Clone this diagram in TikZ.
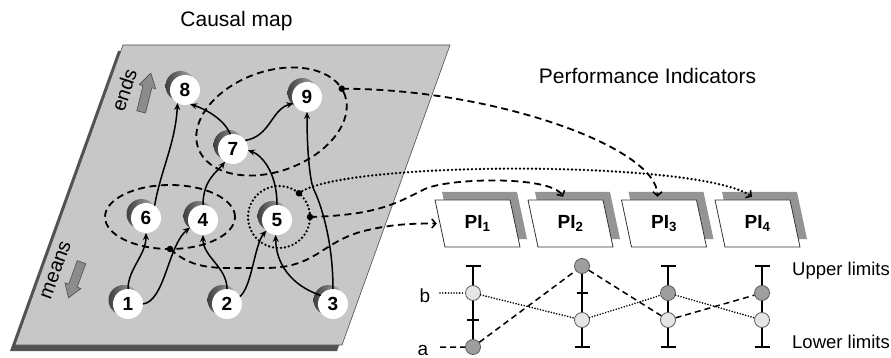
\documentclass[tikz,border=0pt]{standalone}
\usepackage{fontspec}
\setmainfont{Liberation Sans}
\usetikzlibrary{arrows.meta,shapes.geometric,shadows}
\begin{document}
\begin{tikzpicture}[x=1pt,y=-1pt,
  ball/.style={circle, fill=white, inner sep=0pt, outer sep=0pt, minimum size=30pt,
    font=\bfseries\fontsize{19}{19}\selectfont,
    general shadow={shadow xshift=-4.5pt, shadow yshift=4pt, left color=black!75, right color=black!30}},
  edge/.style={line width=1.5pt, -{Stealth[length=7pt,width=6pt]}},
  grp/.style={line width=1.8pt, dash pattern=on 7pt off 4.5pt},
  dotl/.style={line width=2.6pt, dash pattern=on 0pt off 4pt, line cap=round},
  jdot/.style={circle, fill=black, inner sep=0pt, minimum size=6.5pt},
  tip/.style={-{Straight Barb[length=4pt,width=9pt,line width=1.5pt]}},
  lbl/.style={font=\fontsize{19}{22}\selectfont, inner sep=0pt},
  pilabel/.style={font=\bfseries\fontsize{19}{19}\selectfont, inner sep=0pt, minimum width=75pt, minimum height=47pt},
  lim/.style={circle, draw=black!65, line width=0.8pt, inner sep=0pt, minimum size=15pt},
  limdk/.style={lim, fill=black!38},
  limlt/.style={lim, fill=black!10},
  bar/.style={line width=1.7pt},
  aline/.style={line width=1.5pt, dash pattern=on 6pt off 4pt},
  bline/.style={line width=1.8pt, dash pattern=on 0pt off 2.8pt, line cap=round},
  blockarrow/.style={fill=black!45, draw=black!70, line width=0.6pt}
]
\useasboundingbox (0,0) rectangle (891,358);

% plane
\fill[black!68] (118,51) -- (445,51) -- (337,351) -- (10,351) -- cycle;
\filldraw[fill=black!22, draw=black!70, line width=0.6pt] (123,45) -- (450,45) -- (342,345) -- (15,345) -- cycle;

% titles
\node[font=\fontsize{21}{24}\selectfont, anchor=base] (tcm) at (236.5,27) {Causal map};
\node[font=\fontsize{21}{24}\selectfont, anchor=base] (tpi) at (647.5,84) {Performance Indicators};

% ends / means
\begin{scope}[shift={(146,92.5)}, rotate=76]
\filldraw[blockarrow] (-20,-4.5) -- (6,-4.5) -- (6,-8.5) -- (20,0) -- (6,8.5) -- (6,4.5) -- (-20,4.5) -- cycle;
\end{scope}
\begin{scope}[shift={(75,280)}, rotate=250]
\filldraw[blockarrow] (-19,-4.5) -- (6,-4.5) -- (6,-8.5) -- (19,0) -- (6,8.5) -- (6,4.5) -- (-19,4.5) -- cycle;
\end{scope}
\node[lbl, font=\fontsize{20}{24}\selectfont, rotate=72] (tends) at (124,90) {ends};
\node[lbl, font=\fontsize{20}{24}\selectfont, rotate=70] (tmeans) at (56,270) {means};

% groups
\node[grp, draw, ellipse, minimum width=156pt, minimum height=100pt, inner sep=0pt, outer sep=0pt, rotate=20] (g79) at (271.5,121.5) {};
\node[grp, draw, ellipse, minimum width=130pt, minimum height=64pt, inner sep=0pt, outer sep=0pt] (g46) at (170,217) {};
\node[dotl, draw, circle, minimum size=62pt, inner sep=0pt, outer sep=0pt] (g5) at (279,217) {};

% balls
\node[ball] (n1) at (128,304) {1};
\node[ball] (n2) at (227,304) {2};
\node[ball] (n3) at (333,304) {3};
\node[ball] (n4) at (203,220) {4};
\node[ball] (n5) at (277,220) {5};
\node[ball] (n6) at (146,218) {6};
\node[ball] (n7) at (233,149) {7};
\node[ball] (n8) at (185,90) {8};
\node[ball] (n9) at (307,97) {9};

% causal edges
\draw[edge] (n1.north) .. controls +(0,-20) and +(0,22) .. (n6.south);
\draw[edge] (n1.east) .. controls +(22,-3) and +(-22,18) .. (n4.210);
\draw[edge] (n2.north) .. controls +(0,-22) and +(0,22) .. (n4.south);
\draw[edge] (n2.30) .. controls +(12,-10) and +(-12,14) .. (n5.225);
\draw[edge] (n3.145) .. controls +(-30,-10) and +(0,28) .. (n5.265);
\draw[edge] (n3.north) .. controls +(0,-50) and +(6,12) .. (314,190) .. controls +(-4,-8) and +(0,40) .. (n9.south);
\draw[edge] (n4.north) .. controls +(0,-25) and +(-8,10) .. (n7.238);
\draw[edge] (n5.north) .. controls +(0,-35) and +(12,4) .. (n7.-5);
\draw[edge] (n6.55) .. controls +(6,-35) and +(-2,40) .. (n8.240);
\draw[edge] (n7.100) .. controls +(-6,-14) and +(18,6) .. (n8.290);
\draw[edge] (n7.35) .. controls +(25,-4) and +(-22,6) .. (n9.205);

% PI boxes
\foreach \x/\i in {477.5/1, 570.5/2, 664/3, 757.5/4} {
  \fill[black!42] (\x-35.5,192) -- (\x+39.5,192) -- (\x+49.5,239) -- (\x-25.5,239) -- cycle;
  \filldraw[fill=white, draw=black!80, line width=0.8pt] (\x-42.5,200) -- (\x+32.5,200) -- (\x+42.5,247) -- (\x-32.5,247) -- cycle;
  \node[pilabel] (PI\i) at (\x,223.5) {PI\textsubscript{\i}};
}

% junction dots
\node[jdot] (d1) at (g79.5) {};
\node[jdot] (d2) at (g46.south) {};
\node[jdot] (d3) at (g5.50) {};
\node[jdot] (d4) at (g5.east) {};

% group -> PI connectors
\draw[grp, tip] (d1.center) .. controls +(150,0) and +(0,-50) .. ([xshift=-6.5pt,yshift=3pt]PI3.north);
\draw[dotl, tip] (d3.center) .. controls +(41,-33) and +(-52,-37) .. ([xshift=-5.5pt,yshift=3pt]PI4.north);
\draw[grp, tip] (d4.center) .. controls +(70,-2) and +(-25,12) .. (423,190) .. controls +(20,-12) and +(-12,-22) .. ([xshift=-7.5pt,yshift=3pt]PI2.north);
\draw[grp, tip] (d2.center) .. controls +(25,22) and +(-50,0) .. (265,268) .. controls +(50,0) and +(-40,12) .. (360,232) .. controls +(30,-8) and +(-25,0) .. ([xshift=-3pt]PI1.west);

% limits chart
\draw[bar] (473,266) -- (473,347);
\draw[bar] (465.5,266) -- (480.5,266);
\draw[bar] (467,320) -- (479,320);
\draw[bar] (582,266) -- (582,347);
\draw[bar] (574.5,347) -- (589.5,347);
\draw[bar] (576.5,293) -- (587.5,293);
\foreach \x in {668,762} {
  \draw[bar] (\x,266) -- (\x,347);
  \draw[bar] (\x-7.5,266) -- (\x+7.5,266);
  \draw[bar] (\x-7.5,347) -- (\x+7.5,347);
}
\node[limlt] (b1) at (473,293) {};
\node[limdk] (a1) at (473,347) {};
\node[limdk] (a2) at (582,266) {};
\node[limlt] (b2) at (582,320) {};
\node[limdk] (b3) at (668,293) {};
\node[limlt] (a3) at (668,320) {};
\node[limdk] (a4) at (762,293) {};
\node[limlt] (b4) at (762,320) {};

\node[lbl, anchor=base] (la) at (423,355) {a};
\node[lbl, anchor=base] (lb) at (425,302) {b};
\coordinate (as) at (440,347);
\coordinate (bs) at (440,293);
\draw[aline] (as) -- (a1) -- (a2) -- (a3) -- (a4);
\draw[bline] (bs) -- (b1) -- (b2) -- (b3) -- (b4);

\node[font=\fontsize{18.5}{22}\selectfont, anchor=base west, inner sep=0pt] (tup) at (792,275) {Upper limits};
\node[font=\fontsize{18.5}{22}\selectfont, anchor=base west, inner sep=0pt] (tlo) at (792,348) {Lower limits};
\end{tikzpicture}
\end{document}
